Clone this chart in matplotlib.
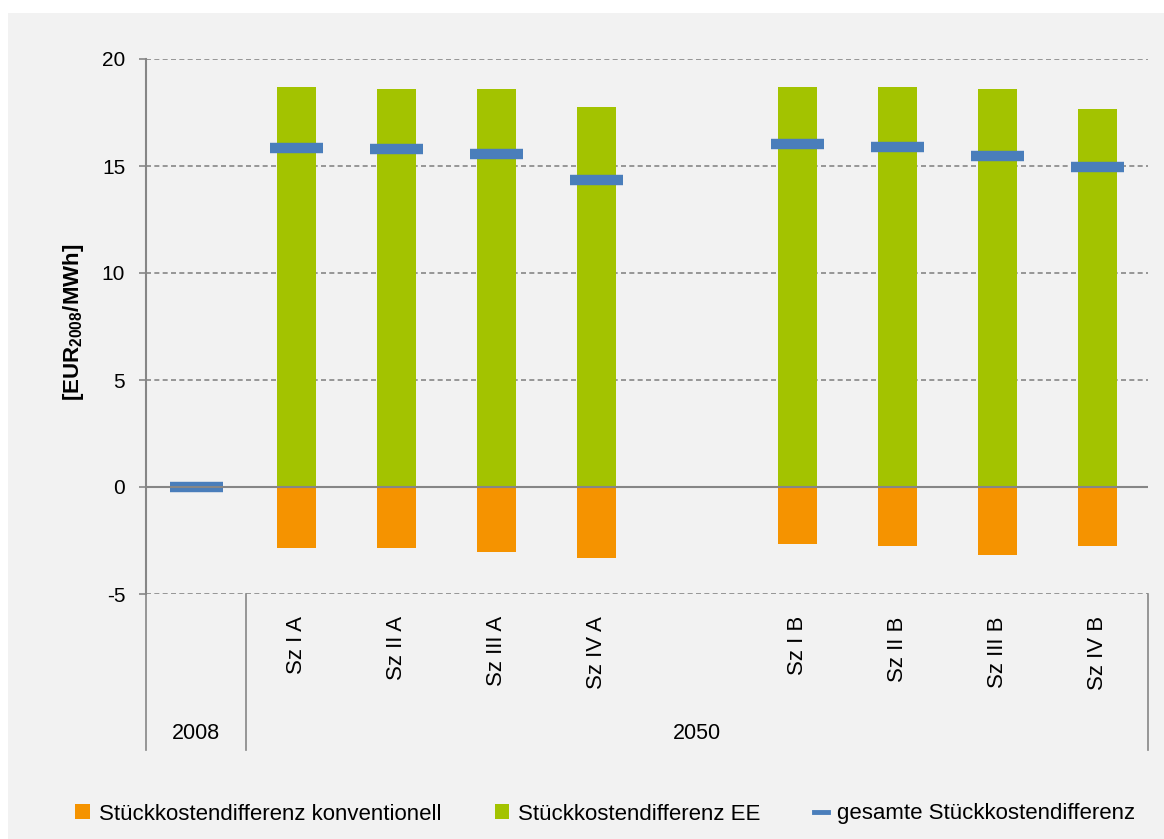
"""Stückkostendifferenz 2008 vs. 2050 scenarios."""

import matplotlib.pyplot as plt
from matplotlib.lines import Line2D
from matplotlib.patches import Patch, Rectangle
from matplotlib.transforms import blended_transform_factory

plt.rcParams["font.family"] = ["Liberation Sans", "DejaVu Sans"]
plt.rcParams["mathtext.fontset"] = "custom"
plt.rcParams["mathtext.rm"] = "Liberation Sans"
plt.rcParams["mathtext.bf"] = "Liberation Sans:bold"

# categories ("" is the empty slot between the A and B scenarios)
categories = ["", "Sz I A", "Sz II A", "Sz III A", "Sz IV A", "",
              "Sz I B", "Sz II B", "Sz III B", "Sz IV B"]
ee_values = [0, 18.7, 18.6, 18.6, 17.75, None, 18.7, 18.7, 18.6, 17.68]
conv_values = [0, -2.83, -2.83, -3.05, -3.33, None, -2.68, -2.76, -3.16, -2.76]
total_values = [0, 15.84, 15.8, 15.55, 14.35, None, 16.03, 15.87, 15.46, 14.93]
groups = ["2008", "2050"]
group_bounds = [(-0.5, 0.5), (0.5, 9.5)]
yticks = [-5, 0, 5, 10, 15, 20]

GREEN = "#a3c300"
ORANGE = "#f59300"
BLUE = "#4a7ebb"
GRAY = "#868686"
BG = "#f2f2f2"

W, H = 1164, 839
fig = plt.figure(figsize=(W / 100, H / 100), dpi=100, facecolor="white")
fig.patches.append(Rectangle((8 / W, 0), 1 - 8 / W, (H - 13) / H,
                             transform=fig.transFigure, facecolor=BG,
                             edgecolor="none", zorder=-10))

ax = fig.add_axes([146 / W, (H - 594) / H, (1148 - 146) / W, (594 - 59) / H])
ax.set_facecolor("none")

xs = [i for i, v in enumerate(ee_values) if v is not None]
ax.bar([x for x in xs if x > 0], [ee_values[x] for x in xs if x > 0],
       width=0.39, color=GREEN, zorder=2)
ax.bar([x for x in xs if x > 0], [conv_values[x] for x in xs if x > 0],
       width=0.39, color=ORANGE, zorder=2)
ax.hlines([total_values[x] for x in xs], [x - 0.265 for x in xs],
          [x + 0.265 for x in xs], color=BLUE, linewidth=7.5, zorder=3)

ax.set_xlim(-0.5, 9.5)
ax.set_ylim(-5, 20)
ax.set_yticks(yticks)
ax.set_yticklabels([str(t) for t in yticks])
for t in yticks:
    if t != 0:
        ax.axhline(t, color=GRAY, linewidth=1.2, linestyle=(0, (3, 2)), zorder=1)
ax.axhline(0, color=GRAY, linewidth=1.5, zorder=4)

for side in ["top", "right", "bottom"]:
    ax.spines[side].set_visible(False)
ax.spines["left"].set_color(GRAY)
ax.spines["left"].set_linewidth(1.5)
ax.tick_params(axis="y", length=5, width=1.2, color=GRAY, pad=10, labelsize=15)

ax.set_xticks(range(len(categories)))
ax.set_xticklabels(categories, rotation=90, va="top", ha="center")
ax.tick_params(axis="x", length=0, pad=16, labelsize=16)

trans = blended_transform_factory(ax.transData, ax.transAxes)
for x in [-0.5, 0.5, 9.5]:
    ax.plot([x, x], [0, -0.292], transform=trans, color=GRAY, linewidth=1.2,
            clip_on=False)
for name, (a, b) in zip(groups, group_bounds):
    ax.text((a + b) / 2, -0.26, name, transform=trans, ha="center", va="center",
            fontsize=15.5)

fig.text(73 / W, (H - 322) / H, r"[EUR$_{\mathbf{2008}}$/MWh]", rotation=90,
         ha="center", va="center", fontsize=16, fontweight="bold")

handles = [
    Patch(facecolor=ORANGE, edgecolor="none"),
    Patch(facecolor=GREEN, edgecolor="none"),
    Line2D([0], [0], color=BLUE, linewidth=3.5),
]
labels = ["Stückkostendifferenz konventionell", "Stückkostendifferenz EE",
          "gesamte Stückkostendifferenz"]
fig.legend(handles, labels, loc="center", bbox_to_anchor=(0.52, (H - 814) / H),
           ncol=3, frameon=False, fontsize=16, handlelength=0.65,
           handleheight=0.65, handletextpad=0.4, columnspacing=2.4)

fig.savefig("out.png", dpi=100, facecolor=fig.get_facecolor())
